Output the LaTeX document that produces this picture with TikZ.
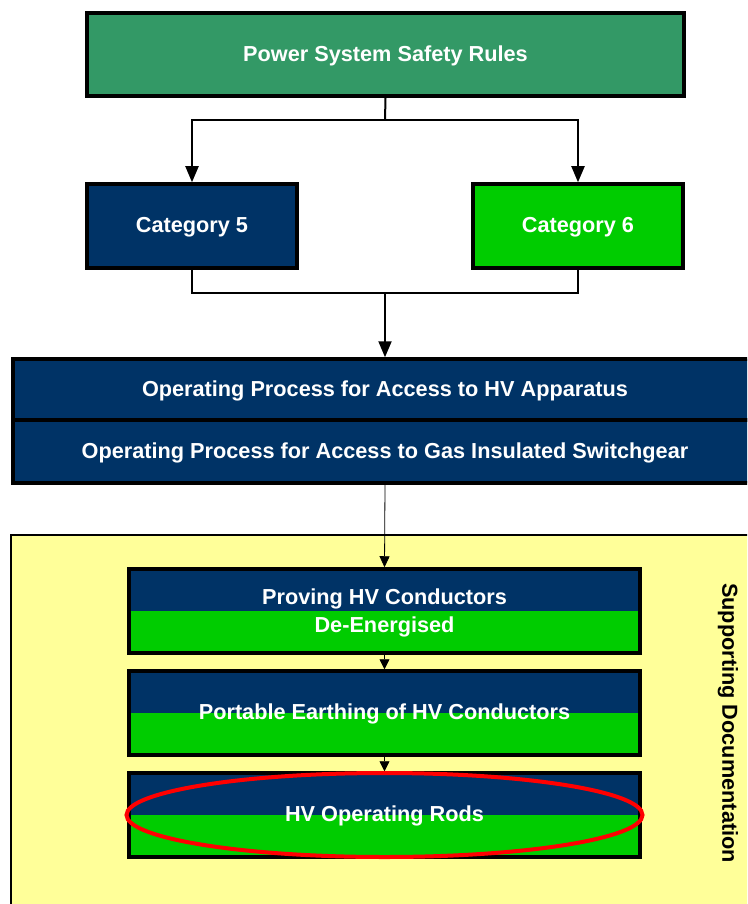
\documentclass[tikz,border=0pt]{standalone}
\usepackage{fontspec}
\setmainfont{Liberation Sans}
\usetikzlibrary{arrows.meta,positioning,calc}
\definecolor{rulesgreen}{HTML}{339966}
\definecolor{navy}{HTML}{003366}
\definecolor{brightgreen}{HTML}{00CC00}
\definecolor{docyellow}{HTML}{FFFF99}

\begin{document}
\begin{tikzpicture}[x=1pt, y=-1pt, >={Triangle[length=16pt,width=13pt]},
  box/.style={draw=black, line width=3.5pt, text=white, inner sep=0pt,
    text height=15pt, text depth=1.5pt,
    font=\fontsize{21.7}{28}\selectfont\bfseries, align=center},
  rules/.style={box, fill=rulesgreen, minimum width=597pt, minimum height=83pt},
  cat/.style={box, minimum width=210pt, minimum height=84pt},
  process/.style={box, fill=navy, minimum width=744pt},
  twotone/.style={box, fill=navy, minimum width=511pt, minimum height=84pt,
    path picture={\fill[brightgreen] (path picture bounding box.west) rectangle (path picture bounding box.south east);}},
  link/.style={line width=2pt, ->}]
  	\clip (0,0) rectangle (747,904);
	% top of the hierarchy
	\node[rules] at (385.5,54.5) (psr) {Power System Safety Rules};
	\node[cat, fill=navy] at (192,226) (cat5) {Category 5};
	\node[cat, fill=brightgreen] at (578,226) (cat6) {Category 6};
	\coordinate (fork) at (385,120);
	\coordinate (join) at (385,293);
	\draw[line width=2pt] (psr.south) -- (fork);
	\draw[link] (fork) -| (cat5.north);
	\draw[link] (fork) -| (cat6.north);
	\draw[line width=2pt] (cat5.south) |- (join);
	\draw[line width=2pt] (cat6.south) |- (join);
	% operating processes
	\node[process, minimum height=61pt] at (385,389.5) (op1) {Operating Process for Access to HV Apparatus};
	\node[process, minimum height=63pt] at (385,451.5) (op2) {Operating Process for Access to Gas Insulated Switchgear};
	\draw[link] (join) -- (op1.north);
	% supporting documentation
	\node[draw=black, line width=1.2pt, fill=docyellow, inner sep=0pt,
	  minimum width=748pt, minimum height=400pt] at (385,735) (support) {};
	\node[rotate=-90, font=\fontsize{21.7}{28}\selectfont\bfseries] at (728,723) (supportlabel) {Supporting Documentation};
	\node[twotone, text height=, text depth=] at (384.5,611) (prove) {\rule{0pt}{19pt}Proving HV Conductors\\De-Energised};
	\node[twotone] at (384.5,713) (earth) {Portable Earthing of HV Conductors};
	\node[twotone] at (384.5,815) (rods) {HV Operating Rods};
	\draw[line width=0.8pt, ->, >={Triangle[length=11pt,width=10pt]}] (op2.south) -- (prove.north);
	\draw[line width=0.8pt, ->, >={Triangle[length=10pt,width=10pt]}] (prove.south) -- (earth.north);
	\draw[line width=0.8pt, ->, >={Triangle[length=10pt,width=10pt]}] (earth.south) -- (rods.north);
	% highlight
	\draw[red, line width=4pt] (rods.center) ellipse [x radius=258, y radius=42];
\end{tikzpicture}
\end{document}
